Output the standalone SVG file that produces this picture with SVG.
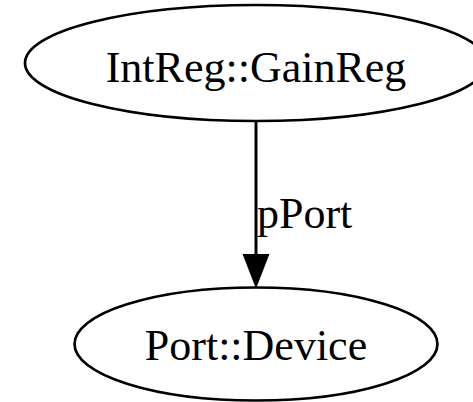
<svg xmlns="http://www.w3.org/2000/svg" width="473" height="402" viewBox="0 0 473 402">
<style>
.node ellipse{fill:none;stroke:#000;stroke-width:2.7}
text{font-family:"Liberation Serif","Times New Roman",serif;font-size:44px;fill:#000}
.edge line{stroke:#000;stroke-width:3}
.edge polygon{fill:#000;stroke:#000;stroke-width:2}
</style>
<rect width="473" height="402" fill="#fff"/>
<g id="node1" class="node">
<ellipse cx="256" cy="63" rx="231" ry="58"/>
<text x="256" y="82" text-anchor="middle">IntReg::GainReg</text>
</g>
<g id="node2" class="node">
<ellipse cx="256" cy="344" rx="181.5" ry="56.5"/>
<text x="256" y="360" text-anchor="middle">Port::Device</text>
</g>
<g id="edges" class="edge">
<line x1="256" y1="121" x2="256" y2="256"/>
<polygon points="244,255 268,255 256,286"/>
<text x="257" y="228">pPort</text>
</g>
</svg>
